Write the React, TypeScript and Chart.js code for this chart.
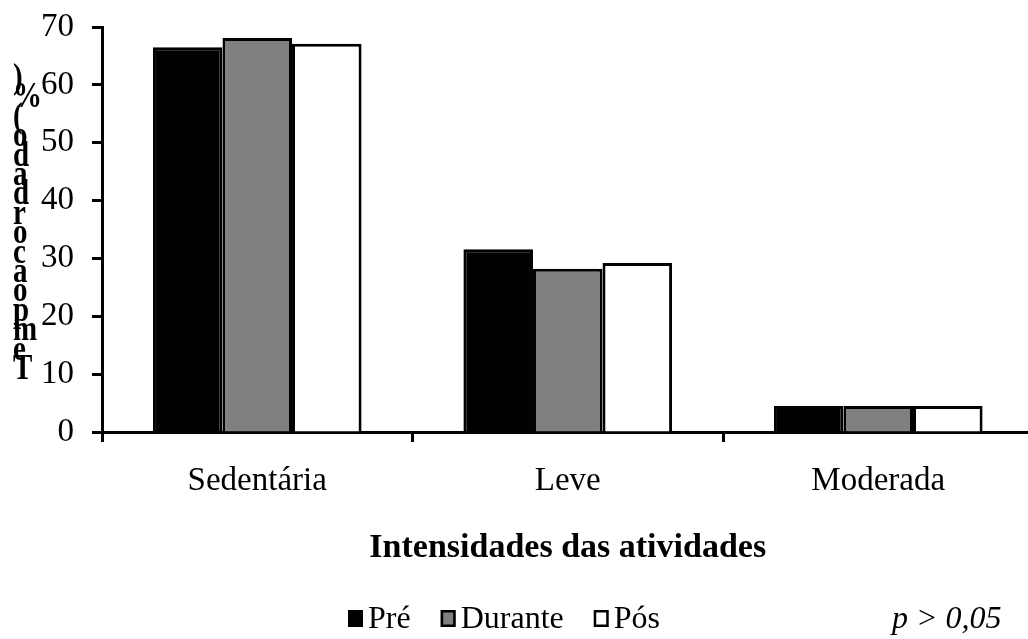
import React, { useEffect, useRef } from "react";
import { Chart, registerables } from "chart.js";

Chart.register(...registerables);

const categories = ["Sedentária", "Leve", "Moderada"];
const seriesNames = ["Pré", "Durante", "Pós"];
const preValues = [66.5, 31.6, 4.5];
const duranteValues = [68.1, 28.2, 4.5];
const posValues = [67.1, 29.2, 4.5];
const seriesColors = ["#000000", "#808080", "#ffffff"];
const yMin = 0;
const yMax = 70;
const yStep = 10;
const yTitle = "Tempo acordado (%)";
const xTitle = "Intensidades das atividades";
const pNote = "p > 0,05";

const FONT = "'Liberation Serif', 'Times New Roman', serif";

const extrasPlugin = {
  id: "extras",
  afterDraw(chart: any) {
    const ctx = chart.ctx as CanvasRenderingContext2D;
    ctx.save();
    ctx.fillStyle = "#000";

    // stacked vertical y title (characters upright, reversed order)
    const chars = Array.from(yTitle).filter((c) => c !== " ").reverse();
    ctx.font = `bold 29px ${FONT}`;
    ctx.textBaseline = "middle";
    ctx.textAlign = "left";
    const mid = 224.5;
    const step = 19.4;
    chars.forEach((c, i) => {
      const y = mid + (i - (chars.length - 1) / 2) * step;
      ctx.save();
      ctx.translate(13, y);
      ctx.scale(1, 1.2);
      ctx.fillText(c, 0, 0);
      ctx.restore();
    });

    // legend
    ctx.font = `32px ${FONT}`;
    ctx.textBaseline = "alphabetic";
    let x = 348;
    const boxTop = 610;
    const baseY = 628;
    chart.data.datasets.forEach((ds: any) => {
      ctx.fillStyle = ds.backgroundColor;
      ctx.fillRect(x, boxTop, 15, 17);
      ctx.lineWidth = 2.5;
      ctx.strokeStyle = "#000";
      ctx.strokeRect(x + 1.25, boxTop + 1.25, 12.5, 14.5);
      ctx.fillStyle = "#000";
      ctx.fillText(ds.label, x + 20, baseY);
      x += 20 + ctx.measureText(ds.label).width + 30;
    });

    // p note
    ctx.font = `italic 32px ${FONT}`;
    ctx.fillText(pNote, 892, baseY);
    ctx.restore();
  },
};

export default function App() {
  const canvasRef = useRef<HTMLCanvasElement | null>(null);

  useEffect(() => {
    if (!canvasRef.current) return;
    const values = [preValues, duranteValues, posValues];
    const chart = new Chart(canvasRef.current, {
      type: "bar",
      data: {
        labels: categories,
        datasets: seriesNames.map((name, i) => ({
          label: name,
          data: values[i],
          backgroundColor: seriesColors[i],
          borderColor: "#000",
          borderWidth: 3,
          categoryPercentage: 0.672,
          barPercentage: 1,
        })),
      },
      options: {
        animation: false,
        responsive: false,
        devicePixelRatio: 1,
        layout: { padding: { top: 27, right: 6.5, left: 0, bottom: 0 } },
        plugins: {
          legend: { display: false },
          tooltip: { enabled: false },
          title: { display: false },
        },
        scales: {
          x: {
            type: "category",
            offset: true,
            grid: {
              display: true,
              drawOnChartArea: false,
              drawTicks: true,
              tickLength: 10,
              tickWidth: 3,
              tickColor: "#000",
              offset: true,
            },
            border: { display: true, color: "#000", width: 3 },
            ticks: {
              color: "#000",
              font: { family: FONT, size: 33 },
              padding: 20,
              maxRotation: 0,
              autoSkip: false,
            },
            title: {
              display: true,
              text: xTitle,
              color: "#000",
              font: { family: FONT, size: 34, weight: "bold" },
              padding: { top: 0, bottom: 70 },
            },
            afterFit: (s: any) => {
              s.height = 207;
              s.paddingLeft = 0;
              s.paddingRight = 0;
            },
          },
          y: {
            min: yMin,
            max: yMax,
            grid: {
              display: true,
              drawOnChartArea: false,
              drawTicks: true,
              tickLength: 10,
              tickWidth: 3,
              tickColor: "#000",
            },
            border: { display: true, color: "#000", width: 3 },
            ticks: {
              stepSize: yStep,
              color: "#000",
              font: { family: FONT, size: 33 },
              padding: 18,
            },
            afterFit: (s: any) => {
              s.width = 102;
              s.paddingTop = 0;
              s.paddingBottom = 0;
            },
          },
        },
      },
      plugins: [extrasPlugin],
    });
    return () => chart.destroy();
  }, []);

  return (
    <div style={{ position: "fixed", left: 0, top: 0, width: 1040, height: 639, background: "#fff" }}>
      <canvas ref={canvasRef} width={1040} height={639} style={{ width: 1040, height: 639 }} />
    </div>
  );
}
